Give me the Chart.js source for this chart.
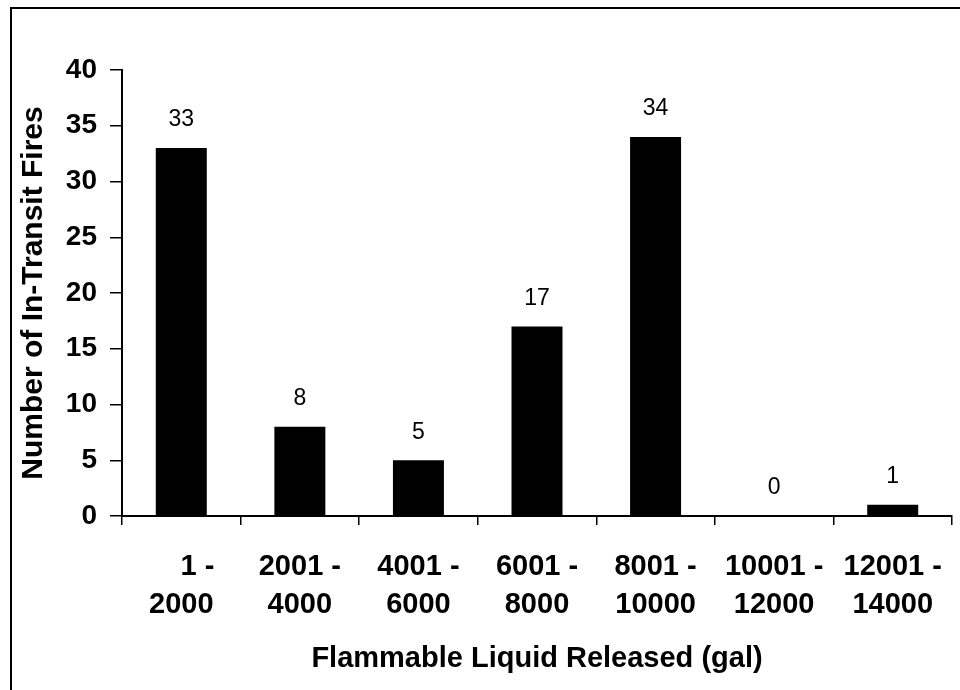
<!DOCTYPE html>
<html>
<head>
<meta charset="utf-8">
<script src="https://cdn.jsdelivr.net/npm/chart.js@4/dist/chart.umd.min.js"></script>
<style>
  html, body { margin: 0; padding: 0; background: #fff; }
  #wrap { position: relative; width: 960px; height: 690px; overflow: hidden; }
  #frame {
    position: absolute; left: 10px; top: 7px; right: 0; bottom: 0;
    border-left: 2px solid #000; border-top: 2px solid #000;
    pointer-events: none;
  }
</style>
</head>
<body>
<div id="wrap">
  <canvas id="fireChart" width="960" height="690"></canvas>
  <div id="frame"></div>
</div>
<script>
// released volume ranges (gal), each split on two lines like the original
const rangeLabels = [
  ['    1 -', '2000'],
  ['2001 -', '4000'],
  ['4001 -', '6000'],
  ['6001 -', '8000'],
  ['8001 -', '10000'],
  ['10001 -', '12000'],
  ['12001 -', '14000']
];
const fireCounts = [33, 8, 5, 17, 34, 0, 1];
const yTicks = [0, 5, 10, 15, 20, 25, 30, 35, 40];

const FONT = '"Liberation Sans", Arial, sans-serif';

// value labels above each bar
const valueLabels = {
  id: 'valueLabels',
  afterDatasetsDraw(chart) {
    const ctx = chart.ctx;
    const meta = chart.getDatasetMeta(0);
    ctx.save();
    ctx.font = '23px ' + FONT;
    ctx.fillStyle = '#000';
    ctx.textAlign = 'center';
    ctx.textBaseline = 'middle';
    meta.data.forEach((bar, i) => {
      ctx.fillText(String(fireCounts[i]), bar.x, bar.y - 28);
    });
    ctx.restore();
  }
};

const ctx = document.getElementById('fireChart').getContext('2d');
new Chart(ctx, {
  type: 'bar',
  data: {
    labels: rangeLabels,
    datasets: [{
      data: fireCounts,
      backgroundColor: '#000',
      borderWidth: 0,
      barPercentage: 0.43,
      categoryPercentage: 1
    }]
  },
  options: {
    responsive: false,
    animation: false,
    layout: { padding: { left: 0, right: 8, top: 70, bottom: 0 } },
    plugins: {
      legend: { display: false },
      tooltip: { enabled: false }
    },
    scales: {
      x: {
        grid: {
          offset: true,
          drawOnChartArea: false,
          drawTicks: true,
          tickLength: 9,
          color: '#000',
          lineWidth: 1.5
        },
        border: { display: true, color: '#000', width: 2 },
        ticks: {
          color: '#000',
          font: { family: FONT, size: 29, weight: 'bold', lineHeight: 1.32 },
          padding: 23,
          maxRotation: 0,
          autoSkip: false
        },
        title: {
          display: true,
          text: 'Flammable Liquid Released (gal)',
          color: '#000',
          font: { family: FONT, size: 29, weight: 'bold' },
          padding: { top: 0, bottom: 14 }
        },
        afterFit(scale) {
          scale.height = 174;
          scale.paddingLeft = 0;
          scale.paddingRight = 0;
        }
      },
      y: {
        min: 0,
        max: 40,
        afterBuildTicks(scale) { scale.ticks = yTicks.map(v => ({ value: v })); },
        grid: {
          drawOnChartArea: false,
          drawTicks: true,
          tickLength: 12,
          color: '#000',
          lineWidth: 1.5
        },
        border: { display: true, color: '#000', width: 2 },
        ticks: {
          color: '#000',
          font: { family: FONT, size: 28, weight: 'bold' },
          padding: 13
        },
        title: {
          display: true,
          text: 'Number of In-Transit Fires',
          color: '#000',
          font: { family: FONT, size: 30, weight: 'bold' },
          padding: { top: 16, bottom: 0 }
        },
        afterFit(scale) { scale.width = 122; }
      }
    }
  },
  plugins: [valueLabels]
});
</script>
</body>
</html>
